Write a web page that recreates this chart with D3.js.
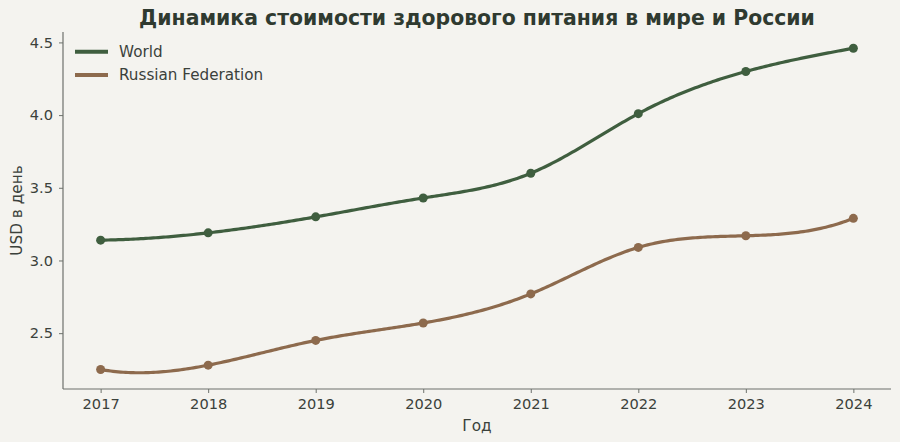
<!DOCTYPE html>
<html>
<head>
<meta charset="utf-8">
<script src="https://cdn.jsdelivr.net/npm/d3@7"></script>
<style>
  html, body { margin: 0; padding: 0; background: #f4f3ef; }
  svg { display: block; font-family: "DejaVu Sans", sans-serif; }
</style>
</head>
<body>
<div id="chart"></div>
<script>
// Chart data
const years = [2017, 2018, 2019, 2020, 2021, 2022, 2023, 2024];
const worldValues = [3.14, 3.19, 3.30, 3.43, 3.60, 4.01, 4.30, 4.46];
const russiaValues = [2.25, 2.28, 2.45, 2.57, 2.77, 3.09, 3.17, 3.29];
const seriesNames = ["World", "Russian Federation"];
const seriesColors = ["#3f5e3f", "#8d6a4d"];
const yTicks = [2.5, 3.0, 3.5, 4.0, 4.5];

// Cubic spline with "not-a-knot" ends (same as scipy make_interp_spline k=3)
function notAKnotSpline(xs, ys) {
  const n = xs.length;
  const h = d3.range(n - 1).map(i => xs[i + 1] - xs[i]);
  const A = d3.range(n).map(() => new Array(n).fill(0));
  const b = new Array(n).fill(0);
  A[0][0] = -h[1]; A[0][1] = h[0] + h[1]; A[0][2] = -h[0];
  for (let i = 1; i < n - 1; i++) {
    A[i][i - 1] = h[i - 1];
    A[i][i] = 2 * (h[i - 1] + h[i]);
    A[i][i + 1] = h[i];
    b[i] = 6 * ((ys[i + 1] - ys[i]) / h[i] - (ys[i] - ys[i - 1]) / h[i - 1]);
  }
  A[n - 1][n - 3] = -h[n - 2]; A[n - 1][n - 2] = h[n - 3] + h[n - 2]; A[n - 1][n - 1] = -h[n - 3];
  // gaussian elimination with pivoting
  for (let c = 0; c < n; c++) {
    let p = c;
    for (let r = c + 1; r < n; r++) if (Math.abs(A[r][c]) > Math.abs(A[p][c])) p = r;
    [A[c], A[p]] = [A[p], A[c]]; [b[c], b[p]] = [b[p], b[c]];
    for (let r = c + 1; r < n; r++) {
      const f = A[r][c] / A[c][c];
      for (let k = c; k < n; k++) A[r][k] -= f * A[c][k];
      b[r] -= f * b[c];
    }
  }
  const M = new Array(n).fill(0);
  for (let r = n - 1; r >= 0; r--) {
    let s = b[r];
    for (let k = r + 1; k < n; k++) s -= A[r][k] * M[k];
    M[r] = s / A[r][r];
  }
  return function (x) {
    let i = Math.min(n - 2, Math.max(0, d3.bisectRight(xs, x) - 1));
    const hi = h[i], a = xs[i + 1] - x, c = x - xs[i];
    return M[i] * a * a * a / (6 * hi) + M[i + 1] * c * c * c / (6 * hi)
      + (ys[i] / hi - M[i] * hi / 6) * a + (ys[i + 1] / hi - M[i + 1] * hi / 6) * c;
  };
}

// d3 curve factory using the spline above
function curveSpline(context) {
  let px = [], py = [];
  return {
    areaStart() {}, areaEnd() {},
    lineStart() { px = []; py = []; },
    point(x, y) { px.push(+x); py.push(+y); },
    lineEnd() {
      const f = notAKnotSpline(px, py);
      const x0 = px[0], x1 = px[px.length - 1];
      for (let k = 0; k <= 300; k++) {
        const xx = x0 + (x1 - x0) * k / 300;
        if (k === 0) context.moveTo(xx, f(xx)); else context.lineTo(xx, f(xx));
      }
    }
  };
}

(function () {
  const W = 900, H = 442;
  const margin = { top: 32, right: 9, bottom: 53, left: 63 };
  const width = W - margin.left - margin.right,
        height = H - margin.top - margin.bottom;

  const svg = d3.select("#chart").append("svg")
    .attr("width", W)
    .attr("height", H);

  svg.append("rect").attr("width", W).attr("height", H).attr("fill", "#f4f3ef");

  const g = svg.append("g")
    .attr("transform", `translate(${margin.left},${margin.top})`);

  const x = d3.scaleLinear()
    .domain([years[0] - 0.35, years[years.length - 1] + 0.35])
    .range([0, width]);

  // y limits follow the smoothed curves, with 5% padding
  const samples = [];
  [worldValues, russiaValues].forEach(vals => {
    const f = notAKnotSpline(years, vals);
    for (let k = 0; k <= 300; k++) samples.push(f(years[0] + (years[years.length - 1] - years[0]) * k / 300));
  });
  const yMin = d3.min(samples), yMax = d3.max(samples);
  const pad = (yMax - yMin) * 0.05;
  const y = d3.scaleLinear()
    .domain([yMin - pad, yMax + pad])
    .range([height, 0]);

  const textColor = "#3b413b";
  const spineColor = "#6d716c";

  // Axes
  const xAxis = g.append("g")
    .attr("transform", `translate(0,${height})`)
    .call(d3.axisBottom(x).tickValues(years).tickFormat(d3.format("d")).tickSize(4).tickPadding(6));
  const yAxis = g.append("g")
    .call(d3.axisLeft(y).tickValues(yTicks).tickFormat(d3.format(".1f")).tickSize(4).tickPadding(6));

  [xAxis, yAxis].forEach(ax => {
    ax.select(".domain").attr("stroke", spineColor).attr("stroke-width", 1.2);
    ax.selectAll(".tick line").attr("stroke", spineColor).attr("stroke-width", 1);
    ax.selectAll(".tick text").attr("fill", textColor).attr("font-size", "14.6px")
      .attr("font-family", "DejaVu Sans");
  });
  // matplotlib spines span the full axes, no outer ticks
  xAxis.select(".domain").attr("d", `M0,0H${width}`);
  yAxis.select(".domain").attr("d", `M0,${height}V0`);

  // Series
  const series = [
    { name: seriesNames[0], color: seriesColors[0], values: worldValues },
    { name: seriesNames[1], color: seriesColors[1], values: russiaValues }
  ];

  const line = d3.line()
    .x((d, i) => x(years[i]))
    .y(d => y(d))
    .curve(curveSpline);

  series.forEach(s => {
    g.append("path")
      .datum(s.values)
      .attr("fill", "none")
      .attr("stroke", s.color)
      .attr("stroke-width", 3.2)
      .attr("stroke-linecap", "round")
      .attr("d", line);

    g.selectAll(null)
      .data(s.values)
      .join("circle")
      .attr("cx", (d, i) => x(years[i]))
      .attr("cy", d => y(d))
      .attr("r", 4.5)
      .attr("fill", s.color);
  });

  // Title
  svg.append("text")
    .attr("x", margin.left + width / 2)
    .attr("y", 25)
    .attr("text-anchor", "middle")
    .attr("font-size", "20.4px")
    .attr("font-weight", "bold")
    .attr("fill", "#2f3a30")
    .text("Динамика стоимости здорового питания в мире и России");

  // Axis labels
  svg.append("text")
    .attr("x", margin.left + width / 2)
    .attr("y", 431)
    .attr("text-anchor", "middle")
    .attr("font-size", "15.3px")
    .attr("fill", textColor)
    .text("Год");

  svg.append("text")
    .attr("transform", `translate(21.5,${margin.top + height / 2}) rotate(-90)`)
    .attr("text-anchor", "middle")
    .attr("font-size", "15.3px")
    .attr("fill", textColor)
    .text("USD в день");

  // Legend
  const legend = svg.append("g").attr("transform", "translate(75,51.7)");
  series.forEach((s, i) => {
    legend.append("line")
      .attr("x1", 0).attr("x2", 33)
      .attr("y1", i * 23.3).attr("y2", i * 23.3)
      .attr("stroke", s.color)
      .attr("stroke-width", 4);
    legend.append("text")
      .attr("x", 44)
      .attr("y", i * 23.3 + 5.5)
      .attr("font-size", "15.2px")
      .attr("fill", textColor)
      .text(s.name);
  });
})();
</script>
</body>
</html>
